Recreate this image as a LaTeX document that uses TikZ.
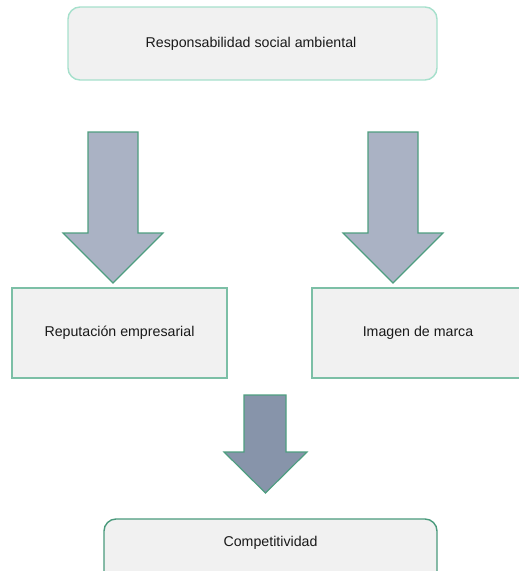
\documentclass[tikz,border=0pt]{standalone}
\usepackage{fontspec}
\setmainfont{Liberation Sans}
\definecolor{boxfill}{HTML}{F1F1F1}
\definecolor{topedge}{HTML}{A6E0CC}
\definecolor{boxedge}{HTML}{7CBFA6}
\definecolor{arrowedge}{HTML}{4E9E80}
\definecolor{lastedge}{HTML}{4A9A7C}
\definecolor{arrowfill}{HTML}{AAB2C4}
\definecolor{darkfill}{HTML}{8794AA}
\tikzset{
  lbl/.style={font=\fontsize{14.2}{17}\selectfont, text=black!90},
  roundbox/.style={draw=#1, fill=boxfill, line width=1.4pt, rounded corners=12pt},
  squarebox/.style={draw=boxedge, fill=boxfill, line width=1.6pt},
  blockarrow/.style={draw=arrowedge, fill=#1, line width=1.2pt, line join=miter},
}
\begin{document}
\begin{tikzpicture}[x=1pt, y=-1pt]
  \useasboundingbox (0,0) rectangle (519,571);
  \clip (0,0) rectangle (519,571);

  % boxes
  \draw[roundbox=topedge] (68,7) rectangle (437,80);
  \node[lbl] (top) at (251,43.5) {Responsabilidad social ambiental};

  \draw[squarebox] (12,288) rectangle (227,378);
  \node[lbl] (rep) at (119.5,333) {Reputación empresarial};

  \draw[squarebox] (312,288) rectangle (526,378);
  \node[lbl] (img) at (418,333) {Imagen de marca};

  \draw[roundbox=lastedge] (104,519) rectangle (437,590);
  \node[lbl] (comp) at (270.5,543) {Competitividad};

  % block arrows
  \draw[blockarrow=arrowfill] (88,132) -- (138,132) -- (138,233) -- (163,233)
    -- (113,283) -- (63,233) -- (88,233) -- cycle;
  \draw[blockarrow=arrowfill] (368,132) -- (418,132) -- (418,233) -- (443,233)
    -- (393,283) -- (343,233) -- (368,233) -- cycle;
  \draw[blockarrow=darkfill] (244,395) -- (286,395) -- (286,452) -- (307,452)
    -- (265.5,493) -- (224,452) -- (244,452) -- cycle;
\end{tikzpicture}
\end{document}
